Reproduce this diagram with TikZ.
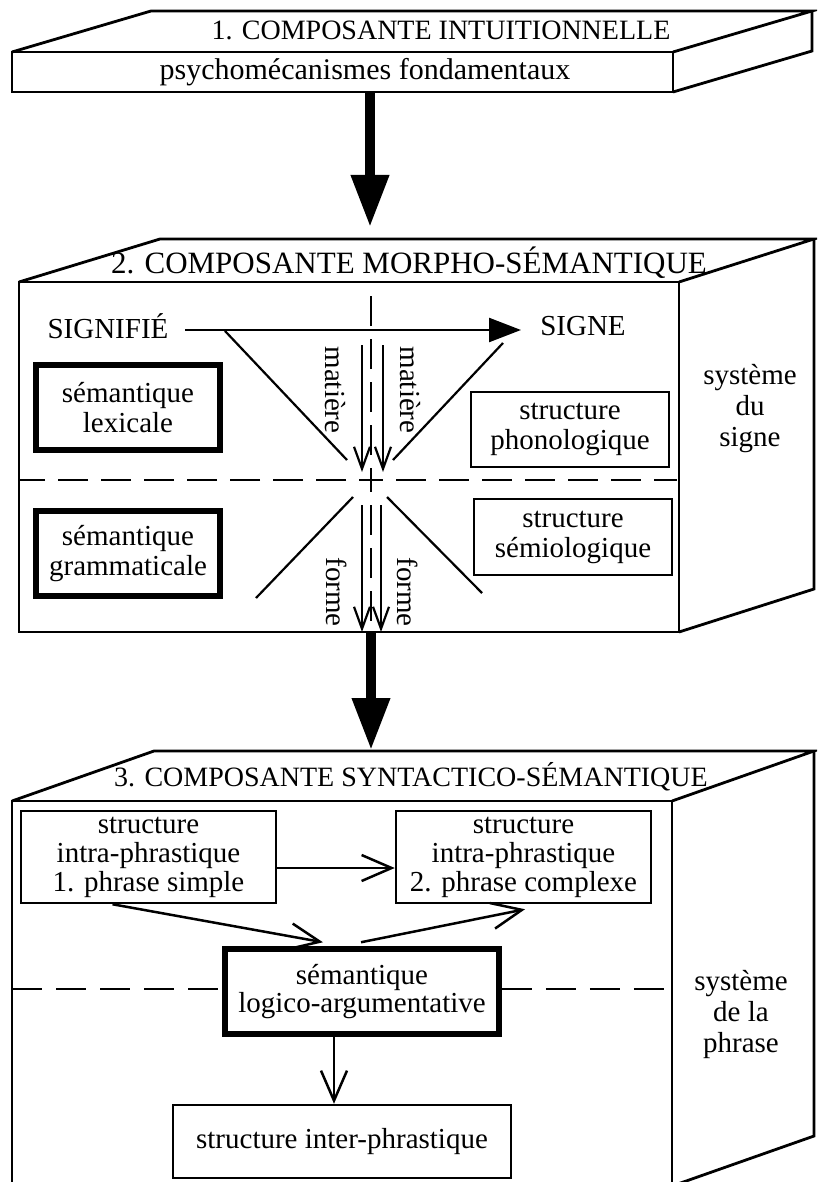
\documentclass[tikz,border=0pt]{standalone}
\usepackage{fontspec}
\setmainfont{Liberation Serif}
\usetikzlibrary{arrows.meta,calc}
\begin{document}
\begin{tikzpicture}[x=1pt,y=-1pt,
  txt/.style={font=\fontsize{29}{30}\selectfont, align=center, inner sep=0pt},
  frame/.style={line width=2.8pt, line join=miter},
  sbox/.style={draw, line width=2.5pt, txt},
  tbox/.style={draw, line width=5.5pt, txt},
  dashc/.style={line width=2.5pt, dash pattern=on 30pt off 13pt, dash phase=18pt},
  dashl/.style={line width=2.5pt, dash pattern=on 30pt off 14pt},
  bigarrow/.style={line width=10pt, -{Triangle[length=52pt,width=36pt]}},
  flow/.style={line width=2.5pt, -{Triangle[length=32pt,width=24pt]}},
  thinarrow/.style={line width=2.2pt, -{Straight Barb[length=22pt,width=16pt]}},
  link/.style={line width=2.5pt, -{Straight Barb[length=30pt,width=26pt]}},
  funnel/.style={line width=2.2pt}
]
\clip (0,0) rectangle (817,1182);

% ---------- block 1 ----------
\draw[frame] (12,52) rectangle (673,92);
\draw[frame] (12,52) -- (151,11) -- (812,11) -- (673,52);
\draw[frame] (812,11) -- (812,51) -- (673,92);
\node[txt, font=\fontsize{28}{30}\selectfont] (t1) at (441,30) {1. COMPOSANTE INTUITIONNELLE};
\node[txt, font=\fontsize{30}{30}\selectfont] (psy) at (365,72) {psychomécanismes fondamentaux};

\coordinate (a1s) at (370,92);
\coordinate (a1e) at (370,227);
\draw[bigarrow] (a1s) -- (a1e);

% ---------- block 2 ----------
\draw[frame] (19,282) rectangle (679,632);
\draw[frame] (19,282) -- (160,239) -- (814,239) -- (679,282);
\draw[frame] (814,239) -- (814,589) -- (679,632);
\node[txt, font=\fontsize{31}{30}\selectfont] (t2) at (409,263) {2. COMPOSANTE MORPHO-SÉMANTIQUE};

\coordinate (c) at (371,480);
\draw[dashc] (c) -- (371,287);
\draw[dashc] (c) -- (371,632);
\draw[dashc] (c) -- (20,480);
\draw[dashc] (c) -- (677,480);

\node[txt] (signifie) at (108,326) {SIGNIFIÉ};
\node[txt] (signe) at (583,326) {SIGNE};
\coordinate (ha) at (185,330);
\coordinate (hb) at (521,330);
\draw[flow] (ha) -- (hb);

% funnel lines through the centre
\coordinate (ul1) at (225,331); \coordinate (ul2) at (347,460);
\coordinate (ur1) at (503,343); \coordinate (ur2) at (393,460);
\coordinate (ll1) at (353,497); \coordinate (ll2) at (256,598);
\coordinate (lr1) at (387,497); \coordinate (lr2) at (482,593);
\draw[funnel] (ul1) -- (ul2);
\draw[funnel] (ur1) -- (ur2);
\draw[funnel] (ll1) -- (ll2);
\draw[funnel] (lr1) -- (lr2);

\coordinate (m1a) at (362,345); \coordinate (m1b) at (362,472);
\coordinate (m2a) at (383,345); \coordinate (m2b) at (383,472);
\coordinate (f1a) at (362,505); \coordinate (f1b) at (362,632);
\coordinate (f2a) at (381,505); \coordinate (f2b) at (381,632);
\draw[thinarrow] (m1a) -- (m1b);
\draw[thinarrow] (m2a) -- (m2b);
\draw[thinarrow] (f1a) -- (f1b);
\draw[thinarrow] (f2a) -- (f2b);
\node[txt, rotate=-90] (mat1) at (335,390) {matière};
\node[txt, rotate=-90] (mat2) at (410,390) {matière};
\node[txt, rotate=-90] (for1) at (337,592) {forme};
\node[txt, rotate=-90] (for2) at (408,592) {forme};

\node[tbox, minimum width=184pt, minimum height=85pt] (lex) at (128,407.5) {sémantique\\lexicale};
\node[tbox, minimum width=184pt, minimum height=85pt] (gram) at (128,553.5) {sémantique\\grammaticale};
\node[sbox, minimum width=198pt, minimum height=75pt] (phon) at (570,429.5) {structure\\phonologique};
\node[sbox, minimum width=198pt, minimum height=76pt] (semio) at (573,537) {structure\\sémiologique};
\node[txt, font=\fontsize{29}{31}\selectfont] (sysA) at (750,409) {système\\du\\signe};

\coordinate (a2s) at (371,632);
\coordinate (a2e) at (371,750);
\draw[bigarrow] (a2s) -- (a2e);

% ---------- block 3 ----------
\draw[frame] (12,801) rectangle (672,1186);
\draw[frame] (12,801) -- (154,751) -- (814,751) -- (672,801);
\draw[frame] (814,751) -- (814,1136) -- (672,1186);
\node[txt, font=\fontsize{28}{30}\selectfont] (t3) at (411,777) {3. COMPOSANTE SYNTACTICO-SÉMANTIQUE};

\node[sbox, minimum width=255pt, minimum height=92pt, font=\fontsize{29}{29}\selectfont] (intra1) at (148.5,857) {structure\\intra-phrastique\\1. phrase simple};
\node[sbox, minimum width=255pt, minimum height=92pt, font=\fontsize{29}{29}\selectfont] (intra2) at (523.5,857) {structure\\intra-phrastique\\2. phrase complexe};
\node[tbox, minimum width=274pt, minimum height=85pt, font=\fontsize{29}{28}\selectfont] (logico) at (362,991.5) {sémantique\\logico-argumentative};
\node[sbox, minimum width=338pt, minimum height=73pt] (inter) at (342,1141.5) {structure inter-phrastique};
\node[txt, font=\fontsize{29}{31}\selectfont] (sysB) at (741,1014) {système\\de la\\phrase};

\draw[dashl] (12,989) -- ($(logico.west)+(0,-2.5)$);
\draw[dashl] ($(logico.east)+(0,-2.5)$) -- (672,989);

\draw[link] ($(intra1.east)+(0,11)$) -- ($(intra2.west)+(0,11)$);
\draw[link] ($(intra1.south)+(-36,0)$) -- ($(logico.north)+(-39,-4)$);
\draw[link] ($(logico.north)+(-1,-4)$) -- ($(intra2.south)+(1.5,5)$);
\draw[link] ($(logico.south)+(-28,0)$) -- ($(inter.north)+(-8,0)$);
\end{tikzpicture}
\end{document}
